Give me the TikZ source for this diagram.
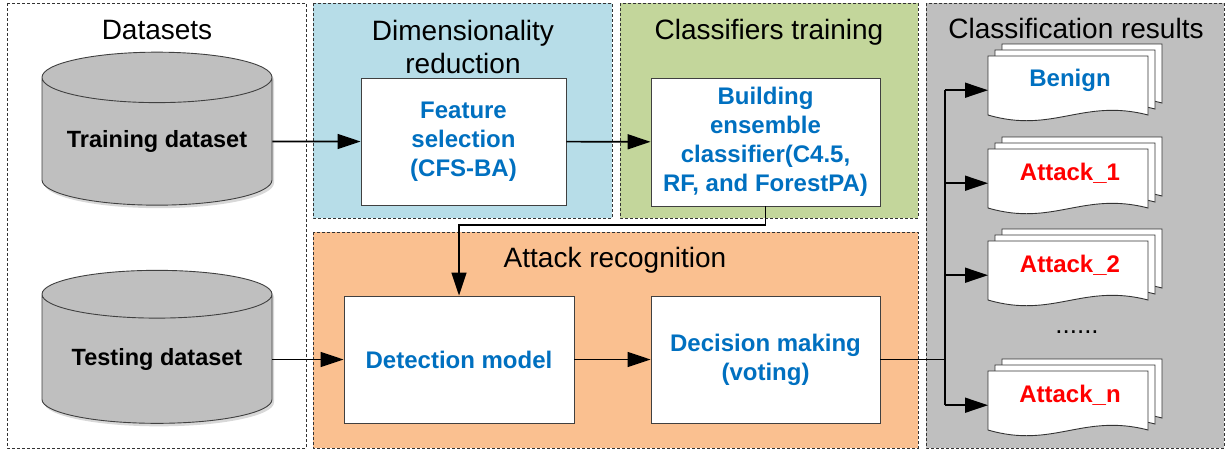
\documentclass[tikz,border=0pt]{standalone}
\usepackage{fontspec}
\setmainfont{Liberation Sans}
\usetikzlibrary{shapes.geometric,arrows.meta,shadows}

\definecolor{dimblue}{RGB}{183,221,232}
\definecolor{trngreen}{RGB}{195,214,155}
\definecolor{recorange}{RGB}{250,192,144}
\definecolor{resgray}{RGB}{191,191,191}
\definecolor{txtblue}{RGB}{0,112,192}
\definecolor{txtred}{RGB}{255,0,0}

\tikzset{
  groupbox/.style={draw=black!80, line width=0.9pt, dash pattern=on 3pt off 2pt},
  grouptitle/.style={font=\fontsize{28}{33}\selectfont, align=center, inner sep=0pt},
  dbnode/.style={cylinder, shape border rotate=90, aspect=0.28, draw=black!75,
    line width=0.9pt, fill=resgray, minimum width=230pt, minimum height=153pt,
    inner sep=0pt, font=\fontsize{23.5}{28}\selectfont\bfseries,
    drop shadow={shadow xshift=2pt, shadow yshift=-3pt, opacity=0.3}},
  stepbox/.style={draw=black!75, line width=0.9pt, fill=white, align=center,
    text=txtblue, inner sep=0pt, font=\fontsize{24}{29}\selectfont\bfseries},
  docshape/.style={draw=black!80, line width=0.9pt, fill=white},
  docbox/.style={minimum width=160pt, minimum height=68pt, inner sep=0pt, anchor=north west},
  doclabel/.style={font=\fontsize{24}{29}\selectfont\bfseries},
  conn/.style={line width=1.6pt},
  flow/.style={line width=1.6pt, -{Triangle[length=23pt,width=15pt]}},
}

% result document with two pages behind it
\newcommand{\resultdoc}[5]{%
  \foreach \s in {2,1,0}
    \draw[docshape, shift={(#2+7*\s,#3-6*\s)}] (0,0) -- (160,0) -- (160,59)
      .. controls (95,42) and (65,78) .. (0,59) -- cycle;
  \node[docbox] (#1) at (#2,#3) {};
  \node[doclabel, text=#4] (#1-txt) at (#2+82,#3+24) {#5};
}

\begin{document}
\begin{tikzpicture}[x=1pt, y=-1pt]
  \useasboundingbox (0,0) rectangle (1227,451);

  % group frames
  \draw[groupbox, fill=white] (7,3) rectangle (306,448);
  \draw[groupbox, fill=dimblue] (313,3) rectangle (612,218);
  \draw[groupbox, fill=trngreen] (620,3) rectangle (918,218);
  \draw[groupbox, fill=recorange] (313,232) rectangle (918,448);
  \draw[groupbox, fill=resgray] (926,3) rectangle (1224,448);

  \node[grouptitle, anchor=base] (datatitle) at (157,39) {Datasets};
  \node[grouptitle] (dimtitle) at (463,47) {Dimensionality\\reduction};
  \node[grouptitle, anchor=base] (trntitle) at (769,39) {Classifiers training};
  \node[grouptitle, anchor=base] (rectitle) at (615,267) {Attack recognition};
  \node[grouptitle, anchor=base] (restitle) at (1076,38) {Classification results};

  % datasets
  \node[dbnode] (trainset) at (157,141.5) {Training dataset};
  \node[dbnode] (testset) at (157,359) {Testing dataset};

  % processing steps
  \node[stepbox, minimum width=205pt, minimum height=127pt] (featsel) at (463.5,141.5)
    {Feature\\selection\\(CFS-BA)};
  \node[stepbox, minimum width=229pt, minimum height=128pt] (ensemble) at (765.5,142)
    {Building\\ensemble\\classifier(C4.5,\\RF, and ForestPA)};
  \node[stepbox, minimum width=230pt, minimum height=127pt] (detect) at (459,359.5)
    {Detection model};
  \node[stepbox, minimum width=229pt, minimum height=127pt] (decide) at (765.5,359.5)
    {Decision making\\(voting)};

  % results
  \resultdoc{benign}{988}{56}{txtblue}{Benign}
  \resultdoc{att1}{988}{149}{txtred}{Attack\_1}
  \resultdoc{att2}{988}{241}{txtred}{Attack\_2}
  \resultdoc{attn}{988}{371}{txtred}{Attack\_n}
  \node[font=\fontsize{26}{30}\selectfont, anchor=base] (dots) at (1077,333) {......};

  % connectors
  \coordinate (bend) at (459,225);
  \coordinate (split) at (945,359.5);
  \draw[flow] (trainset) -- (featsel);
  \draw[flow] (featsel) -- (ensemble);
  \draw[flow] (ensemble.south) |- (bend) -- (detect.north);
  \draw[flow] (testset.east |- detect) -- (detect);
  \draw[flow] (detect) -- (decide);
  \draw[conn] (decide.east) -- (split);
  \draw[conn] (split |- benign.west) -- (split |- attn.west);
  \foreach \d in {benign,att1,att2,attn}
    \draw[flow] (split |- \d.west) -- (\d.west);
\end{tikzpicture}
\end{document}
